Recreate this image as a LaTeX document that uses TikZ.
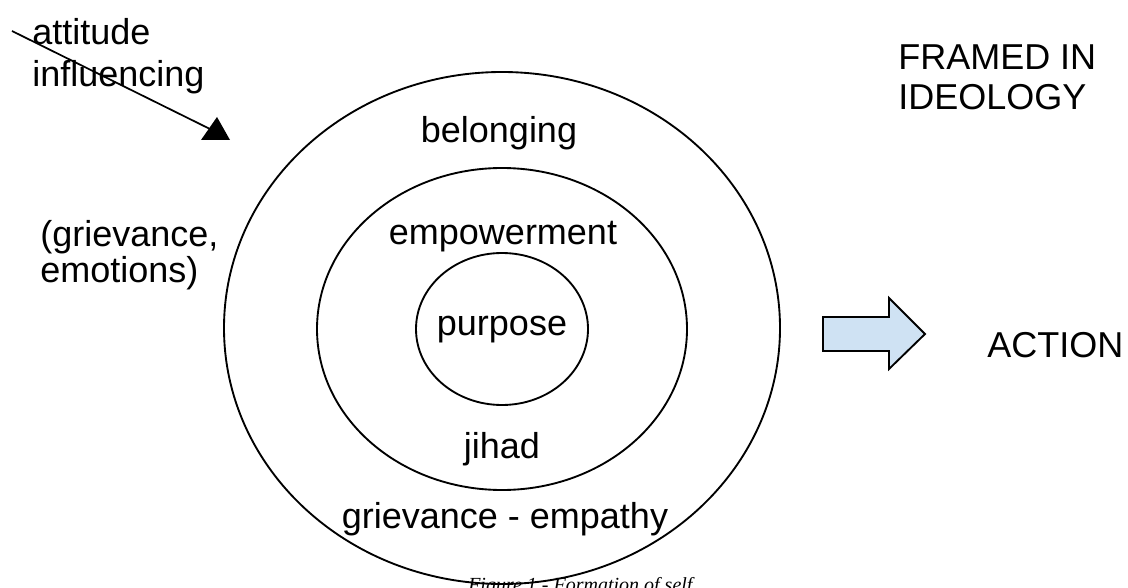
\documentclass[tikz,border=0pt]{standalone}
\usepackage{fontspec}
\setmainfont{Liberation Sans}
\newfontfamily\capfont{Liberation Serif}
\usetikzlibrary{positioning}
\definecolor{arrowblue}{RGB}{207,226,243}

\begin{document}
\begin{tikzpicture}[x=0.75pt,y=-0.75pt]
    \def \cx {502}
    \def \cy {328}
    \tikzstyle{every node}=[inner sep=0pt, font=\fontsize{27}{31}\selectfont];
    \tikzstyle{ring}=[line width=1.4pt];
    \tikzstyle{lbl}=[anchor=base];
    \useasboundingbox (0,0) rectangle (1128,588);
    \clip (0,0) rectangle (1128,588);
    % the three rings
    \draw[ring] (\cx,\cy) ellipse [x radius=278, y radius=256];
    \draw[ring] (\cx,\cy+1) ellipse [x radius=185, y radius=161];
    \draw[ring] (\cx,\cy+1) ellipse [x radius=86, y radius=76];
    \node[lbl] (belong) at (\cx-3,143) {belonging};
    \node[lbl] (empow) at (\cx+1,244) {empowerment};
    \node[lbl] (purp) at (\cx,335) {purpose};
    \node[lbl] (jihad) at (\cx,458) {jihad};
    \node[lbl] (griev) at (\cx+3,528) {grievance - empathy};
    % outside texts (base anchor sits on the last line)
    \node[anchor=base west, align=left, font=\fontsize{27}{31.5}\selectfont] (attit) at (32,87) {attitude\\influencing};
    \node[anchor=base west, align=left, font=\fontsize{27}{27}\selectfont] (emot) at (40,282) {(grievance,\\emotions)};
    \node[anchor=base west, align=left, font=\fontsize{27}{30}\selectfont] (frame) at (898,110) {FRAMED IN\\IDEOLOGY};
    \node[anchor=base west] (action) at (987,357) {ACTION};
    % influence arrow
    \coordinate (in1) at (12,31);
    \coordinate (in2) at (212,130);
    \draw[line width=1.3pt] (in1) -- (in2);
    \fill (201,140) -- (230,140) -- (217,117) -- cycle;
    % block arrow
    \draw[line width=1.4pt, fill=arrowblue] (823,317) -- (889,317) -- (889,298) -- (925,334)
        -- (889,369) -- (889,351) -- (823,351) -- cycle;
    \node[anchor=base west, font=\capfont\itshape\fontsize{15}{18}\selectfont] (capt) at (468,591) {Figure 1 - Formation of self};
\end{tikzpicture}
\end{document}
